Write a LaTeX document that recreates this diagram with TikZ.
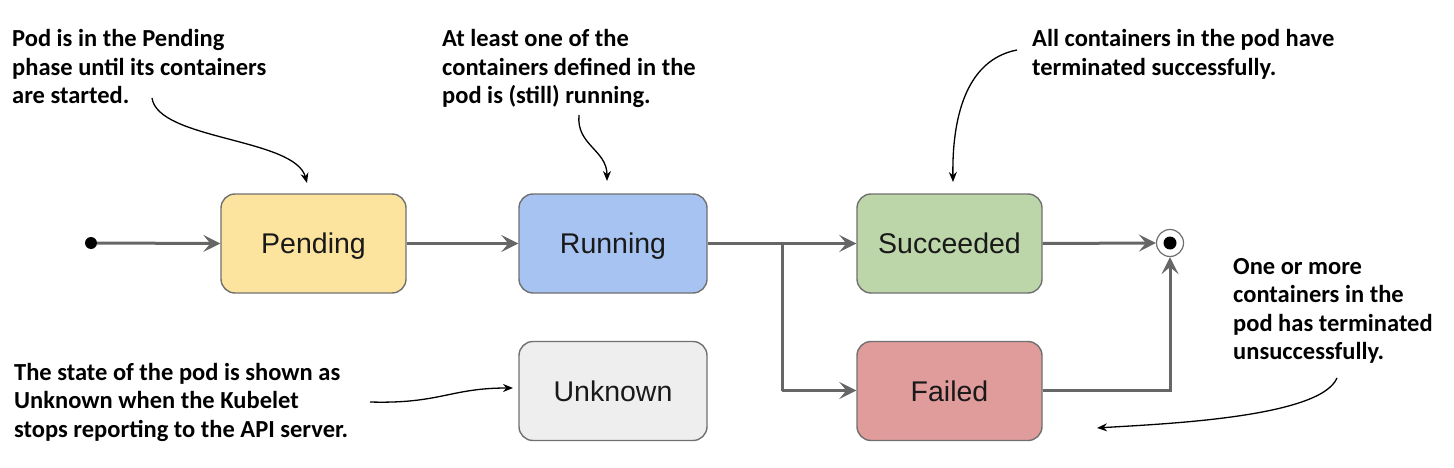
\documentclass[tikz,border=0pt]{standalone}
\usepackage{fontspec}
\setmainfont{Liberation Sans}
\newfontfamily\annfont{Carlito}
\usetikzlibrary{arrows.meta}
\definecolor{cline}{HTML}{666666}
\definecolor{cborder}{HTML}{707070}
\definecolor{cpend}{HTML}{FCE49F}
\definecolor{crun}{HTML}{A7C3F1}
\definecolor{csucc}{HTML}{BCD6AA}
\definecolor{cfail}{HTML}{E09C9B}
\definecolor{cunk}{HTML}{EEEEEE}
\tikzset{
  state/.style={draw=cborder, line width=1.4pt, rounded corners=14pt,
    minimum width=185pt, minimum height=99pt, inner sep=0pt,
    text height=20.5pt, text depth=0pt,
    font=\fontsize{28.5}{33}\selectfont, text=black!90},
  flow/.style={draw=cline, line width=3pt,
    -{Stealth[length=17pt,width=17pt,inset=7pt]}},
  flowplain/.style={draw=cline, line width=3pt},
  ann/.style={anchor=base west, inner sep=0pt,
    font=\annfont\bfseries\fontsize{24.5}{28.5}\selectfont},
  annarrow/.style={draw=black, line width=1.3pt,
    -{Stealth[length=10pt,width=8pt]}},
}
\newcommand{\annlines}[1]{\vtop{\baselineskip=28.5pt \halign{##\hfil\cr #1\crcr}}}
\begin{document}
\begin{tikzpicture}[x=1pt,y=-1pt]
\useasboundingbox (0,0) rectangle (1454,468);

% states
\node[state, fill=cpend] (pend) at (313.5,243.5) {Pending};
\node[state, fill=crun, minimum width=188pt] (run) at (613,243.5) {Running};
\node[state, fill=csucc] (succ) at (949.5,243.5) {Succeeded};
\node[state, fill=cfail] (fail) at (949.5,391) {Failed};
\node[state, fill=cunk, minimum width=188pt] (unk) at (613,391) {Unknown};

% start and end
\node[circle, fill=black, minimum size=12pt, inner sep=0pt] (start) at (91,243) {};
\node[circle, draw=cborder, fill=white, line width=1.2pt, minimum size=27pt, inner sep=0pt] (end) at (1170,243) {};
\node[circle, fill=black, minimum size=13pt, inner sep=0pt] (enddot) at (1170,243) {};

% flows
\draw[flow] (start) -- (pend.west);
\draw[flow] (pend.east) -- (run.west);
\draw[flow] (run.east) -- (succ.west);
\coordinate (branch) at (782,243);
\draw[flowplain] (branch) -- (782,390.5);
\draw[flow] (782,390.5) -- (fail.west |- 0,390.5);
\draw[flow] (succ.east) -- (end.west);
\draw[flow] (fail.east |- 0,390.5) -| (end.south);

% annotations
\node[ann] (a1) at (12,47) {\annlines{Pod is in the Pending\cr phase until its containers\cr are started.}};
\node[ann] (a2) at (442,47) {\annlines{At least one of the\cr containers defined in the\cr pod is (still) running.}};
\node[ann] (a3) at (1032,47) {\annlines{All containers in the pod have\cr terminated successfully.}};
\node[ann] (a4) at (14,380) {\annlines{The state of the pod is shown as\cr Unknown when the Kubelet\cr stops reporting to the API server.}};
\node[ann] (a5) at (1233,274) {\annlines{One or more\cr containers in the\cr pod has terminated\cr unsuccessfully.}};

% annotation arrows
\coordinate (s1) at (152,98);   \coordinate (e1) at (307,183);
\coordinate (s2) at (579,115);  \coordinate (e2) at (607,181);
\coordinate (s3) at (1017,50);  \coordinate (e3) at (953,182);
\coordinate (s4) at (370,402);  \coordinate (e4) at (513,388);
\coordinate (s5) at (1337,378); \coordinate (e5) at (1097,428);
\draw[annarrow] (s1) .. controls (158,140) and (295,138) .. (e1);
\draw[annarrow] (s2) .. controls (576,145) and (607,150) .. (e2);
\draw[annarrow] (s3) .. controls (965,60) and (952,120) .. (e3);
\draw[annarrow] (s4) .. controls (440,404) and (450,388) .. (e4);
\draw[annarrow] (s5) .. controls (1320,418) and (1160,424) .. (e5);
\end{tikzpicture}
\end{document}
